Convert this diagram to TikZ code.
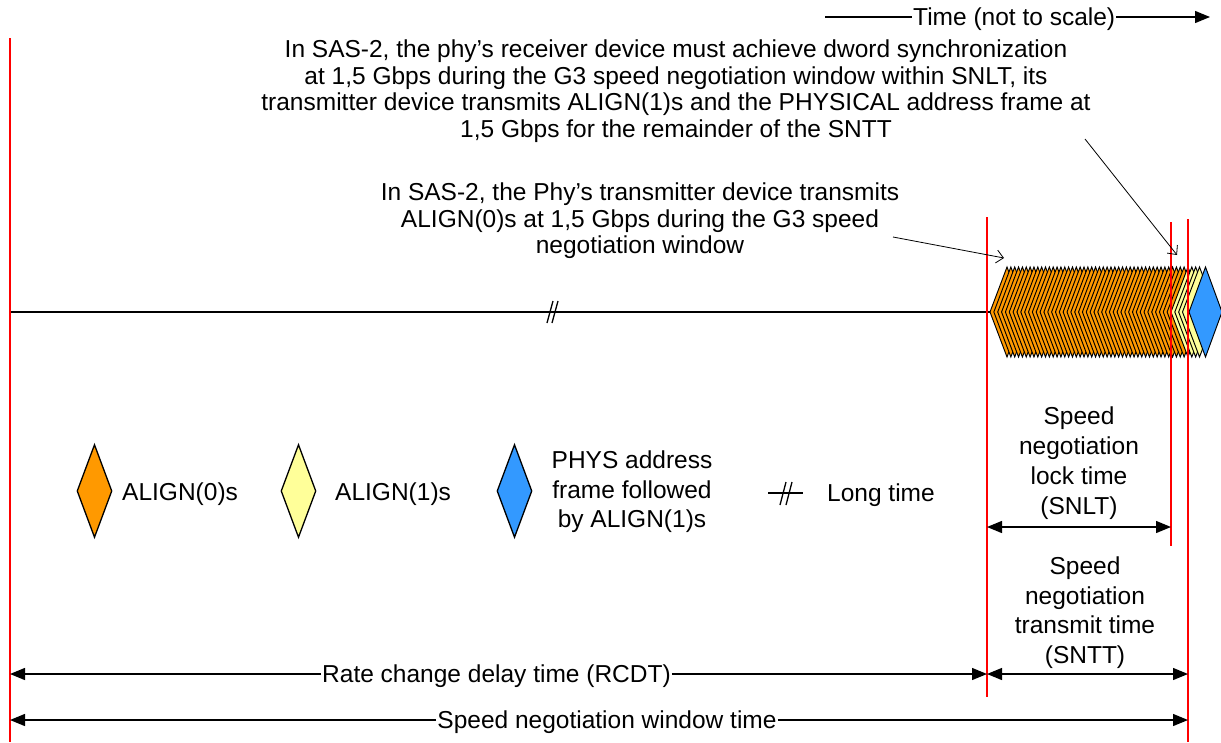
\documentclass[tikz,border=0pt]{standalone}
\usepackage{fontspec}
\setmainfont{Liberation Sans}
\usetikzlibrary{arrows.meta,shapes.geometric}
\definecolor{aorange}{HTML}{FF9900}
\definecolor{ayellow}{HTML}{FFFF99}
\definecolor{ablue}{HTML}{3399FF}
\begin{document}
\begin{tikzpicture}[x=1pt,y=-1pt,
  redline/.style={draw=red, line width=1.5pt},
  blk/.style={line width=1.3pt},
  chain/.style={line width=0.95pt},
  tipA/.tip={Triangle[length=15pt,width=12pt]},
  dimarrow/.style={line width=1.3pt, -tipA},
  dimboth/.style={line width=1.3pt, tipA-tipA},
  lbl/.style={font=\fontsize{24.5}{26.5}\selectfont, inner sep=0pt},
  callout/.style={line width=0.8pt, -{Straight Barb[length=7pt,width=13pt]}},
  legdia/.style={diamond, draw, line width=1.3pt, minimum width=35pt, minimum height=93pt, inner sep=0pt}
]
\useasboundingbox (0,0) rectangle (1221,742);

% timeline
\coordinate (t0) at (10,312);
\coordinate (t1) at (991,312);
\draw[blk] (t0) -- (t1);
\draw[blk] (547,323) -- (553,301);
\draw[blk] (552,323) -- (558,301);

% diamond chain
\foreach \k in {0,...,46}
  \draw[chain, fill=aorange] ({990+3.85*\k},312) -- ++(17,-45) -- ++(17,45) -- ++(-17,45) -- cycle;
\foreach \k in {47,...,50}
  \draw[chain, fill=ayellow] ({990+3.85*\k},312) -- ++(17,-45) -- ++(17,45) -- ++(-17,45) -- cycle;
\draw[chain, fill=ablue] (1189,312) -- ++(16.5,-45) -- ++(16.5,45) -- ++(-16.5,45) -- cycle;

% red lines
\coordinate (r1t) at (10,38);    \coordinate (r1b) at (10,742);
\coordinate (r2t) at (987,217);  \coordinate (r2b) at (987,697);
\coordinate (r3t) at (1171,222); \coordinate (r3b) at (1171,546);
\coordinate (r4t) at (1188,219); \coordinate (r4b) at (1188,742);
\draw[redline] (r1t) -- (r1b);
\draw[redline] (r2t) -- (r2b);
\draw[redline] (r3t) -- (r3b);
\draw[redline] (r4t) -- (r4b);

% time arrow
\node[lbl, anchor=base west, inner xsep=1pt] (time) at (912,25) {Time (not to scale)};
\coordinate (tl) at (825,17);
\coordinate (tr) at (1210,17);
\draw[blk] (tl) -- (tl -| time.west);
\draw[dimarrow] (time.east |- tr) -- (tr);

% notes
\node[lbl, anchor=north, align=center] (note1) at (676,40)
  {In SAS-2, the phy’s receiver device must achieve dword synchronization\\
   at 1,5 Gbps during the G3 speed negotiation window within SNLT, its\\
   transmitter device transmits ALIGN(1)s and the PHYSICAL address frame at\\
   1,5 Gbps for the remainder of the SNTT};
\coordinate (c1s) at (1085,139);
\coordinate (c1e) at (1177,255);
\draw[callout] (c1s) -- (c1e);

\node[lbl, anchor=north, align=center] (note2) at (640,183)
  {In SAS-2, the Phy’s transmitter device transmits\\
   ALIGN(0)s at 1,5 Gbps during the G3 speed\\
   negotiation window};
\coordinate (c2s) at (893,237);
\coordinate (c2e) at (1004,258);
\draw[callout] (c2s) -- (c2e);

% legend
\node[legdia, fill=aorange] (d0) at (94.5,491) {};
\node[lbl, anchor=base west] (l0) at (122,500) {ALIGN(0)s};
\node[legdia, fill=ayellow] (d1) at (298.5,491) {};
\node[lbl, anchor=base west] (l1) at (335,500) {ALIGN(1)s};
\node[legdia, fill=ablue] (d2) at (514.5,491) {};
\node[lbl, anchor=north, align=center, font=\fontsize{24.5}{29.5}\selectfont] (l2) at (632,451)
  {PHYS address\\frame followed\\by ALIGN(1)s};
\coordinate (lt0) at (768,493);
\coordinate (lt1) at (803,493);
\draw[blk] (lt0) -- (lt1);
\draw[blk] (780,505) -- (786,482);
\draw[blk] (786,505) -- (792,482);
\node[lbl, anchor=base west] (l3) at (827,501) {Long time};

% SNLT
\node[lbl, anchor=north, align=center, font=\fontsize{24.5}{30}\selectfont] (snlt) at (1079,406.5)
  {Speed\\negotiation\\lock time\\(SNLT)};
\coordinate (sl0) at (987,527);
\coordinate (sl1) at (1171,527);
\draw[dimboth] (sl0) -- (sl1);

% SNTT
\node[lbl, anchor=north, align=center, font=\fontsize{24.5}{29.7}\selectfont] (sntt) at (1085,556.5)
  {Speed\\negotiation\\transmit time\\(SNTT)};
\coordinate (st0) at (987,674);
\coordinate (st1) at (1188,674);
\draw[dimboth] (st0) -- (st1);

% RCDT
\node[lbl, anchor=base, inner xsep=1pt] (rcdt) at (496.5,682) {Rate change delay time (RCDT)};
\coordinate (rc0) at (10,674);
\coordinate (rc1) at (987,674);
\draw[dimarrow] (rc0 -| rcdt.west) -- (rc0);
\draw[dimarrow] (rc1 -| rcdt.east) -- (rc1);

% SNW
\node[lbl, anchor=base, inner xsep=1pt] (snw) at (607,728) {Speed negotiation window time};
\coordinate (sw0) at (10,720);
\coordinate (sw1) at (1188,720);
\draw[dimarrow] (sw0 -| snw.west) -- (sw0);
\draw[dimarrow] (sw1 -| snw.east) -- (sw1);
\end{tikzpicture}
\end{document}
